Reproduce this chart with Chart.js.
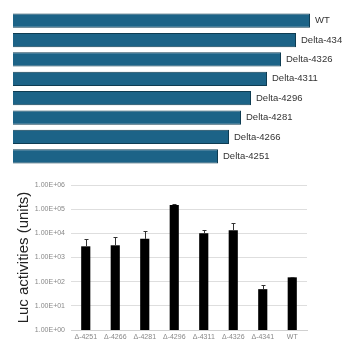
<!DOCTYPE html>
<html>
<head>
<meta charset="utf-8">
<script src="https://cdn.jsdelivr.net/npm/chart.js@4.4.1/dist/chart.umd.min.js"></script>
<style>
  html, body { margin: 0; padding: 0; background: #fff; }
  .wrap { position: relative; width: 342px; height: 341px; }
  #topBox { position: absolute; left: 0; top: 0; width: 342px; height: 170px; }
  #botBox { position: absolute; left: 0; top: 170px; width: 342px; height: 171px; }
</style>
</head>
<body>
<div class="wrap">
  <div id="topBox"><canvas id="topChart"></canvas></div>
  <div id="botBox"><canvas id="botChart"></canvas></div>
</div>
<script>
// deletion constructs (top panel), lengths in relative units
const constructLabels = ['WT', 'Delta-4341', 'Delta-4326', 'Delta-4311', 'Delta-4296', 'Delta-4281', 'Delta-4266', 'Delta-4251'];
const constructLengths = [297, 283, 268, 254, 238, 228, 216, 205];

// luciferase activities (bottom panel)
const lucCategories = ['Δ-4251', 'Δ-4266', 'Δ-4281', 'Δ-4296', 'Δ-4311', 'Δ-4326', 'Δ-4341', 'WT'];
const lucMeans = [2900, 3200, 5900, 150000, 10000, 13500, 49, 151];
const lucErrTop = [5900, 7200, 12000, 170000, 14000, 27000, 76, 162];
const logTicks = [1, 10, 100, 1000, 10000, 100000, 1000000];

const FONT = '"Liberation Sans", Arial, sans-serif';
Chart.defaults.font.family = FONT;
Chart.defaults.animation = false;

// label at the end of every horizontal bar
const endLabels = {
    id: 'endLabels',
    afterDatasetsDraw(chart) {
        const ctx = chart.ctx;
        const meta = chart.getDatasetMeta(0);
        ctx.save();
        ctx.font = '9.5px ' + FONT;
        ctx.fillStyle = '#333';
        ctx.textBaseline = 'middle';
        meta.data.forEach((bar, i) => {
            ctx.fillText(constructLabels[i], bar.x + 5, bar.y);
        });
        ctx.restore();
    }
};

new Chart(document.getElementById('topChart'), {
    type: 'bar',
    data: {
        labels: constructLabels,
        datasets: [{
            data: constructLengths,
            backgroundColor: '#1c6387',
            borderColor: '#0e3c52',
            borderWidth: 1,
            barPercentage: 0.73,
            categoryPercentage: 1
        }]
    },
    options: {
        indexAxis: 'y',
        responsive: true, maintainAspectRatio: false,
        layout: { padding: { left: 13, right: 0, top: 11, bottom: 4 } },
        scales: {
            x: { display: false, min: 0, max: 329 },
            y: { display: false }
        },
        plugins: { legend: { display: false }, tooltip: { enabled: false } }
    },
    plugins: [endLabels]
});

// upper error bars
const errorBars = {
    id: 'errorBars',
    afterDatasetsDraw(chart) {
        const ctx = chart.ctx;
        const yScale = chart.scales.y;
        const meta = chart.getDatasetMeta(0);
        ctx.save();
        ctx.strokeStyle = '#333';
        ctx.lineWidth = 1;
        meta.data.forEach((bar, i) => {
            const yTop = Math.round(yScale.getPixelForValue(lucErrTop[i])) + 0.5;
            const x = Math.round(bar.x) + 0.5;
            ctx.beginPath();
            ctx.moveTo(x, bar.y);
            ctx.lineTo(x, yTop);
            ctx.moveTo(x - 2, yTop);
            ctx.lineTo(x + 2, yTop);
            ctx.stroke();
        });
        ctx.restore();
    }
};

new Chart(document.getElementById('botChart'), {
    type: 'bar',
    data: {
        labels: lucCategories,
        datasets: [{
            data: lucMeans,
            backgroundColor: '#000',
            barPercentage: 0.31,
            categoryPercentage: 1
        }]
    },
    options: {
        responsive: true, maintainAspectRatio: false,
        layout: { padding: { left: 10, right: 35, top: 15, bottom: 0 } },
        scales: {
            x: {
                grid: { display: false, drawTicks: false },
                border: { color: '#d0d0d0' },
                ticks: { color: '#888', font: { size: 7 }, padding: 3, maxRotation: 0, autoSkip: false },
                afterFit: s => { s.height = 11; }
            },
            y: {
                type: 'logarithmic',
                min: 1, max: 1000000,
                afterBuildTicks: s => { s.ticks = logTicks.map(v => ({ value: v })); },
                grid: { color: '#dedede', drawTicks: false },
                border: { display: false },
                ticks: {
                    color: '#888', font: { size: 7 }, padding: 6,
                    callback: v => Number(v).toExponential(2).toUpperCase().replace(/E([+-])(\d)$/, 'E$10$2')
                },
                title: { display: true, text: 'Luc activities (units)', color: '#222', font: { size: 15 }, padding: { top: 5, bottom: 0 } },
                afterFit: s => { s.width = 61; }
            }
        },
        plugins: { legend: { display: false }, tooltip: { enabled: false } }
    },
    plugins: [errorBars]
});
</script>
</body>
</html>
